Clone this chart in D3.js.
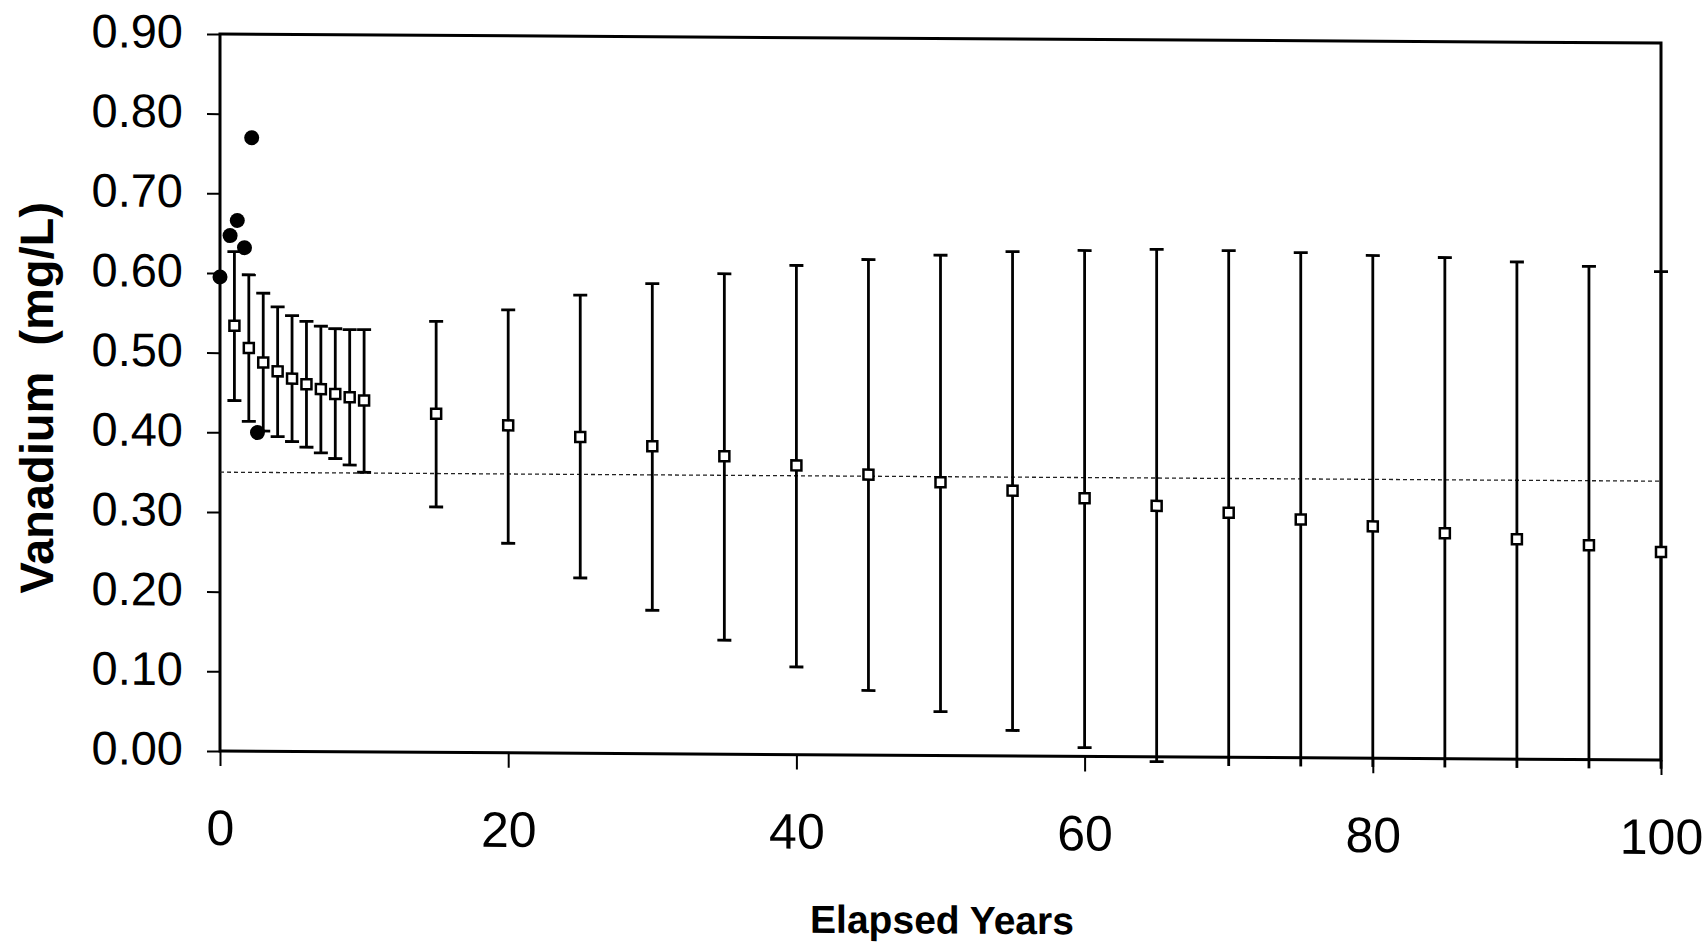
<!DOCTYPE html>
<html>
<head>
<meta charset="utf-8">
<script src="https://cdn.jsdelivr.net/npm/d3@7"></script>
<style>
  html, body { margin: 0; padding: 0; background: #fff; }
  text { font-family: "Liberation Sans", Arial, sans-serif; fill: #000; }
</style>
</head>
<body>
<div id="chart"></div>
<script>
// modelled mean with error bars
const years = [1, 2, 3, 4, 5, 6, 7, 8, 9, 10, 15, 20, 25, 30, 35, 40, 45, 50, 55, 60, 65, 70, 75, 80, 85, 90, 95, 100];
const meanVals = [0.534, 0.506, 0.488, 0.477, 0.468, 0.461, 0.455, 0.449, 0.445, 0.441,
  0.425, 0.411, 0.397, 0.386, 0.374, 0.363, 0.352, 0.343, 0.333, 0.324, 0.315, 0.307, 0.299, 0.291, 0.283, 0.276, 0.269, 0.261];
const upperVals = [0.627, 0.598, 0.575, 0.558, 0.547, 0.540, 0.534, 0.531, 0.530, 0.530,
  0.541, 0.556, 0.575, 0.590, 0.603, 0.614, 0.622, 0.628, 0.633, 0.635, 0.637, 0.636, 0.634, 0.631, 0.629, 0.624, 0.619, 0.613];
const lowerVals = [0.440, 0.414, 0.402, 0.395, 0.389, 0.382, 0.375, 0.368, 0.360, 0.351,
  0.308, 0.263, 0.220, 0.180, 0.143, 0.110, 0.081, 0.055, 0.032, 0.011, -0.006, -0.022, -0.036, -0.049, -0.063, -0.072, -0.081, -0.091];

// measured values
const obsYears = [0, 0.7, 1.2, 1.7, 2.2, 2.6];
const obsVals = [0.595, 0.647, 0.666, 0.632, 0.770, 0.400];

const limitVal = 0.35;
const xTicks = [0, 20, 40, 60, 80, 100];
const yTicks = [0, 0.1, 0.2, 0.3, 0.4, 0.5, 0.6, 0.7, 0.8, 0.9];

let W = 1707, H = 947;
let plotLeft = 220, plotRight = 1661, plotTop = 34, plotBottom = 751;

let svg = d3.select("#chart")
  .append("svg")
  .attr("width", W)
  .attr("height", H);

// scanned page is slightly tilted
let g = svg.append("g")
  .attr("transform", "translate(0," + (-0.00624 * plotLeft) + ") skewY(0.3575)");

let x = d3.scaleLinear().domain([0, 100]).range([plotLeft, plotRight]);
let y = d3.scaleLinear().domain([0, 0.9]).range([plotBottom, plotTop]);

let data = years.map((yr, i) => ({ yr: yr, m: meanVals[i], hi: upperVals[i], lo: lowerVals[i] }));
let obs = obsYears.map((yr, i) => ({ yr: yr, v: obsVals[i] }));

g.append("clipPath")
  .attr("id", "clip")
  .append("rect")
  .attr("x", plotLeft - 20)
  .attr("y", 0)
  .attr("width", plotRight - plotLeft + 60)
  .attr("height", y(-0.011));

// axes
let xAxis = d3.axisBottom(x).tickValues(xTicks).tickSize(15).tickFormat(d3.format("d"));
let gx = g.append("g")
  .attr("transform", "translate(0," + plotBottom + ")")
  .call(xAxis);
gx.select(".domain").remove();
gx.selectAll(".tick line").attr("stroke", "#000").attr("stroke-width", 2);
gx.selectAll(".tick text")
  .attr("y", 94)
  .attr("dy", 0)
  .style("font-size", "50px");

let yAxis = d3.axisLeft(y).tickValues(yTicks).tickSize(13).tickPadding(24).tickFormat(d3.format(".2f"));
let gy = g.append("g")
  .attr("transform", "translate(" + plotLeft + ",0)")
  .call(yAxis);
gy.select(".domain").remove();
gy.selectAll(".tick line").attr("stroke", "#000").attr("stroke-width", 2);
gy.selectAll(".tick text")
  .attr("dy", 13.5)
  .style("font-size", "47px");

// plot border
g.append("rect")
  .attr("x", x(0))
  .attr("y", y(0.9))
  .attr("width", x(100) - x(0))
  .attr("height", y(0) - y(0.9))
  .attr("fill", "none")
  .attr("stroke", "#000")
  .attr("stroke-width", 3);

// limit line
g.append("line")
  .attr("x1", x(0))
  .attr("x2", x(100))
  .attr("y1", y(limitVal))
  .attr("y2", y(limitVal))
  .attr("stroke", "#222")
  .attr("stroke-width", 1.3)
  .attr("stroke-dasharray", "4,3");

// error bars
let bars = g.append("g").attr("clip-path", "url(#clip)");
bars.selectAll(".stem")
  .data(data)
  .join("line")
  .attr("class", "stem")
  .attr("x1", d => x(d.yr))
  .attr("x2", d => x(d.yr))
  .attr("y1", d => y(d.hi))
  .attr("y2", d => y(d.lo))
  .attr("stroke", "#000")
  .attr("stroke-width", 2.8);
bars.selectAll(".capHi")
  .data(data)
  .join("line")
  .attr("class", "capHi")
  .attr("x1", d => x(d.yr) - 7)
  .attr("x2", d => x(d.yr) + 7)
  .attr("y1", d => y(d.hi))
  .attr("y2", d => y(d.hi))
  .attr("stroke", "#000")
  .attr("stroke-width", 2.8);
bars.selectAll(".capLo")
  .data(data)
  .join("line")
  .attr("class", "capLo")
  .attr("x1", d => x(d.yr) - 7)
  .attr("x2", d => x(d.yr) + 7)
  .attr("y1", d => y(d.lo))
  .attr("y2", d => y(d.lo))
  .attr("stroke", "#000")
  .attr("stroke-width", 2.8);

// measured points
g.selectAll(".obs")
  .data(obs)
  .join("circle")
  .attr("class", "obs")
  .attr("cx", d => x(d.yr))
  .attr("cy", d => y(d.v))
  .attr("r", 7.5)
  .attr("fill", "#000");

// mean markers
g.selectAll(".mean")
  .data(data)
  .join("rect")
  .attr("class", "mean")
  .attr("x", d => x(d.yr) - 5)
  .attr("y", d => y(d.m) - 5)
  .attr("width", 10)
  .attr("height", 10)
  .attr("fill", "#fff")
  .attr("stroke", "#000")
  .attr("stroke-width", 2.5);

// titles
g.append("text")
  .attr("transform", "translate(53,399) rotate(-90)")
  .attr("text-anchor", "middle")
  .style("font-size", "47px")
  .style("font-weight", "bold")
  .attr("xml:space", "preserve")
  .text("Vanadium  (mg/L)");

g.append("text")
  .attr("x", 942)
  .attr("y", 929)
  .attr("text-anchor", "middle")
  .style("font-size", "39px")
  .style("font-weight", "bold")
  .text("Elapsed Years");
</script>
</body>
</html>
